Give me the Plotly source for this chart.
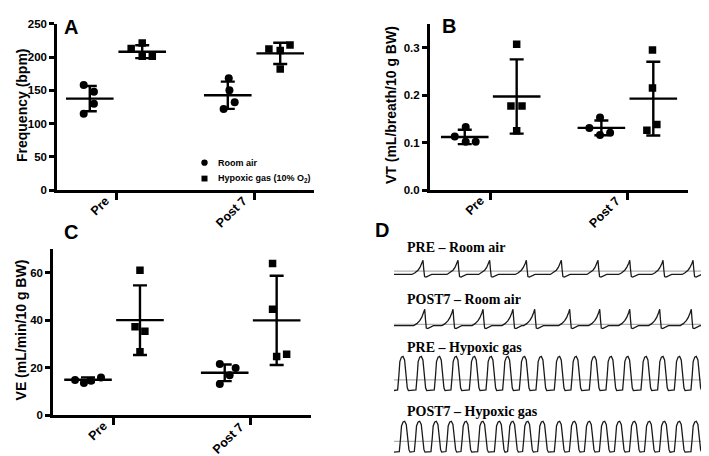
import plotly.graph_objects as go

# ---- data ----
categories = ["Pre", "Post 7"]

# A: breathing frequency (bpm)
freq_room = [[158, 148, 130, 115], [168, 150, 132, 122]]
freq_room_mean = [137.5, 142.6]
freq_room_sd = [19.0, 20.5]
freq_hyp = [[221, 213, 201, 201], [218, 212, 210, 182]]
freq_hyp_mean = [208.0, 205.5]
freq_hyp_sd = [9.7, 16.0]

# B: tidal volume (mL/breath/10 g BW)
vt_room = [[0.113, 0.133, 0.102, 0.102], [0.153, 0.131, 0.116, 0.121]]
vt_room_mean = [0.112, 0.131]
vt_room_sd = [0.015, 0.0155]
vt_hyp = [[0.307, 0.177, 0.177, 0.125], [0.295, 0.215, 0.138, 0.126]]
vt_hyp_mean = [0.197, 0.1925]
vt_hyp_sd = [0.078, 0.0775]

# C: minute ventilation (mL/min/10 g BW)
ve_room = [[14.9, 13.6, 14.6, 15.9], [21.6, 19.9, 16.9, 13.2]]
ve_room_mean = [15.0, 17.9]
ve_room_sd = [1.0, 3.5]
ve_hyp = [[60.9, 37.2, 35.3, 26.7], [63.8, 44.6, 24.7, 25.7]]
ve_hyp_mean = [40.0, 39.9]
ve_hyp_sd = [14.6, 18.7]

# D: example plethysmograph traces, breath peak times (s) over a 4 s window
pre_room_peaks = [0.367, 0.810, 1.211, 1.675, 2.118, 2.582, 2.984, 3.405, 3.785]
post_room_peaks = [0.389, 0.747, 1.127, 1.506, 1.781, 2.224, 2.604, 2.984, 3.363, 3.763]
pre_hyp_peaks = [0.114, 0.346, 0.578, 0.789, 1.021, 1.232, 1.443, 1.654, 1.865,
                 2.097, 2.308, 2.540, 2.751, 2.962, 3.194, 3.405, 3.616, 3.827]
post_hyp_peaks = [0.135, 0.325, 0.536, 0.726, 0.916, 1.127, 1.338, 1.506, 1.696, 1.886,
                  2.097, 2.287, 2.477, 2.667, 2.857, 3.047, 3.237, 3.427, 3.616, 3.827]
# single-breath shapes (time from peak in s, relative amplitude)
room_breath_dt = [-0.139, -0.101, -0.063, -0.038, -0.013, 0.0, 0.010, 0.020, 0.038, 0.076, 0.110]
room_breath_amp = [0.0, 0.12, 0.30, 0.50, 0.80, 1.0, 0.35, -0.15, -0.18, -0.06, 0.0]
hyp_breath_dt = [-0.068, -0.052, -0.040, -0.020, 0.0, 0.020, 0.040, 0.054, 0.068]
hyp_breath_amp = [0.02, 0.45, 0.85, 0.98, 1.0, 0.9, 0.5, 0.08, 0.0]
trace_end = 4.0

# ---- layout helpers ----
W, H = 709, 456
BOLD = "Liberation Sans, Arial, sans-serif"
SERIF = "Liberation Serif, Times New Roman, serif"
ROOM_OFF, HYP_OFF = -0.19, 0.19
jit_freq_room = [[-0.044, 0.03, 0.03, -0.044], [0.007, 0.012, 0.05, -0.03]]
jit_freq_hyp = [[0, -0.08, 0, 0.073], [0.071, -0.082, 0, 0]]
jit_vt_room = [[-0.073, 0.007, 0.007, 0.08], [-0.01, -0.088, -0.01, 0.064]]
jit_vt_hyp = [[0, -0.042, 0.039, 0], [-0.006, -0.006, 0.026, -0.047]]
jit_ve_room = [[-0.095, -0.03, 0.022, 0.095], [-0.036, 0.08, 0.036, -0.036]]
jit_ve_hyp = [[0, -0.036, 0.036, 0], [-0.03, -0.03, 0, 0.073]]


def px_x(x0, x1):
    return [x0 / W, x1 / W]


def px_y(top, bottom):
    return [1 - bottom / H, 1 - top / H]


def bold(items):
    return [f"<b>{t}</b>" for t in items]


def add_group(fig, xa, ya, values, jitter, mean, sd, offset, symbol, size):
    xs, ys = [], []
    for i, grp in enumerate(values):
        for v, j in zip(grp, jitter[i]):
            xs.append(i + 1 + offset + j)
            ys.append(v)
    fig.add_trace(go.Scatter(
        x=xs, y=ys, mode="markers", xaxis=xa, yaxis=ya, showlegend=False,
        marker=dict(symbol=symbol, size=size, color="black"), hoverinfo="y"))
    fig.add_trace(go.Scatter(
        x=[i + 1 + offset for i in range(len(mean))], y=mean, mode="markers",
        xaxis=xa, yaxis=ya, showlegend=False, hoverinfo="y",
        marker=dict(symbol="line-ew", size=34, line=dict(width=2.4, color="black")),
        error_y=dict(type="data", array=sd, color="black", thickness=2.4, width=7)))


def breath_trace(peaks, dts, amps):
    xs, ys = [0.0], [amps[-1]]
    for p in peaks:
        for d, a in zip(dts, amps):
            xs.append(p + d)
            ys.append(a)
    xs.append(trace_end)
    ys.append(amps[-1])
    return xs, ys


fig = go.Figure()

add_group(fig, "x", "y", freq_room, jit_freq_room, freq_room_mean, freq_room_sd, ROOM_OFF, "circle", 8)
add_group(fig, "x", "y", freq_hyp, jit_freq_hyp, freq_hyp_mean, freq_hyp_sd, HYP_OFF, "square", 7.5)
add_group(fig, "x2", "y2", vt_room, jit_vt_room, vt_room_mean, vt_room_sd, ROOM_OFF, "circle", 8)
add_group(fig, "x2", "y2", vt_hyp, jit_vt_hyp, vt_hyp_mean, vt_hyp_sd, HYP_OFF, "square", 7.5)
add_group(fig, "x3", "y3", ve_room, jit_ve_room, ve_room_mean, ve_room_sd, ROOM_OFF, "circle", 8)
add_group(fig, "x3", "y3", ve_hyp, jit_ve_hyp, ve_hyp_mean, ve_hyp_sd, HYP_OFF, "square", 7.5)

# panel D rows: label, peaks, shape, baseline px, peak px, grey line level, label px
d_rows = [
    ("PRE – Room air", pre_room_peaks, "room", 267.5, 253.0, 0.24, 240),
    ("POST7 – Room air", post_room_peaks, "room", 320.0, 303.3, 0.08, 293),
    ("PRE – Hypoxic gas", pre_hyp_peaks, "hyp", 386.7, 351.7, 0.31, 343),
    ("POST7 – Hypoxic gas", post_hyp_peaks, "hyp", 450.0, 418.3, 0.35, 408),
]

axis_common = dict(showline=True, linecolor="black", linewidth=2.5, ticks="outside",
                   tickcolor="black", tickwidth=2.5, showgrid=False, zeroline=False,
                   tickfont=dict(family=BOLD, size=11.5, color="black"))
xcat = dict(axis_common, tickvals=[1, 2], ticklen=7, showticklabels=False)


def yticks(vals, fmt="{:g}"):
    return dict(tickvals=vals, ticktext=bold([fmt.format(v) for v in vals]))


layout = dict(
    width=W, height=H, autosize=False, margin=dict(l=0, r=0, t=0, b=0),
    paper_bgcolor="white", plot_bgcolor="white", showlegend=False,
    xaxis=dict(xcat, domain=px_x(49, 306), range=[0.5725, 2.4348], anchor="y"),
    yaxis=dict(axis_common, domain=px_y(10, 181), range=[0, 250], ticklen=5, anchor="x",
               **yticks([0, 50, 100, 150, 200, 250])),
    xaxis2=dict(xcat, domain=px_x(421.7, 680), range=[0.5534, 2.444], anchor="y2"),
    yaxis2=dict(axis_common, domain=px_y(10, 181), range=[0, 0.35], ticklen=5, anchor="x2",
                **yticks([0, 0.1, 0.2, 0.3], "{:.1f}")),
    xaxis3=dict(xcat, domain=px_x(45, 302.7), range=[0.5538, 2.439], anchor="y3"),
    yaxis3=dict(axis_common, domain=px_y(241, 412.3), range=[0, 70], ticklen=5, anchor="x3",
                **yticks([0, 20, 40, 60])),
)

shapes, annotations = [], []

# rotated category labels under each dot plot
for xref, axis_py in [("x", 181), ("x2", 181), ("x3", 412.3)]:
    for i, cat in enumerate(categories):
        annotations.append(dict(text=f"<b>{cat}</b>", x=i + 1, xref=xref, y=1 - (axis_py + 1) / H,
                                yref="paper", xanchor="right", yanchor="top", textangle=-45,
                                showarrow=False, xshift=-1,
                                font=dict(family=BOLD, size=12.5, color="black")))

for k, (label, peaks, kind, base_py, peak_py, grey, label_py) in enumerate(d_rows):
    n = k + 4
    scale = base_py - peak_py
    top_py, bot_py = peak_py - 3, base_py + 6
    layout[f"xaxis{n}"] = dict(domain=px_x(386, 702), range=[0, trace_end], visible=False,
                               anchor=f"y{n}")
    layout[f"yaxis{n}"] = dict(domain=px_y(top_py, bot_py), visible=False, anchor=f"x{n}",
                               range=[-(bot_py - base_py) / scale, (base_py - top_py) / scale])
    if kind == "room":
        xs, ys = breath_trace(peaks, room_breath_dt, room_breath_amp)
    else:
        xs, ys = breath_trace(peaks, hyp_breath_dt, hyp_breath_amp)
    shapes.append(dict(type="line", xref=f"x{n} domain", yref=f"y{n}", x0=0, x1=1,
                       y0=grey, y1=grey, line=dict(color="#b0b0b0", width=1.2), layer="below"))
    fig.add_trace(go.Scatter(x=xs, y=ys, mode="lines", xaxis=f"x{n}", yaxis=f"y{n}",
                             line=dict(color="#1a1a1a", width=1.3), showlegend=False,
                             hoverinfo="skip"))
    annotations.append(dict(text=f"<b>{label}</b>", x=396.7 / W, y=1 - label_py / H,
                            xref="paper", yref="paper", xanchor="left", yanchor="middle",
                            showarrow=False, font=dict(family=SERIF, size=14, color="black")))

# legend key inside panel A
legend_items = [("circle", "Room air", 152.7), ("rect", "Hypoxic gas (10% O<sub>2</sub>)", 169.0)]
for kind, text, ly in legend_items:
    r = 3.2 if kind == "circle" else 3.0
    shapes.append(dict(type=kind, xref="paper", yref="paper", x0=(196.5 - r) / W,
                       x1=(196.5 + r) / W, y0=1 - (ly + r) / H, y1=1 - (ly - r) / H,
                       fillcolor="black", line=dict(width=0)))
    annotations.append(dict(text=f"<b>{text}</b>", x=207.5 / W, y=1 - ly / H, xref="paper",
                            yref="paper", xanchor="left", yanchor="middle", showarrow=False,
                            font=dict(family=BOLD, size=9, color="black")))

for letter, lx, ly in [("A", 63, 13), ("B", 441, 12), ("C", 63, 224), ("D", 374, 222)]:
    annotations.append(dict(text=f"<b>{letter}</b>", x=lx / W, y=1 - ly / H, xref="paper",
                            yref="paper", xanchor="center", yanchor="middle", showarrow=False,
                            font=dict(family=BOLD, size=20, color="black")))

for title, tx, ty in [("Frequency (bpm)", 14, 93.5), ("VT (mL/breath/10 g BW)", 383, 93.5),
                      ("VE (mL/min/10 g BW)", 13, 325)]:
    annotations.append(dict(text=f"<b>{title}</b>", x=tx / W, y=1 - ty / H, xref="paper",
                            yref="paper", xanchor="center", yanchor="middle", textangle=-90,
                            showarrow=False, font=dict(family=BOLD, size=14, color="black")))

layout["shapes"] = shapes
layout["annotations"] = annotations
fig.update_layout(layout)

fig.write_html("out.html")
